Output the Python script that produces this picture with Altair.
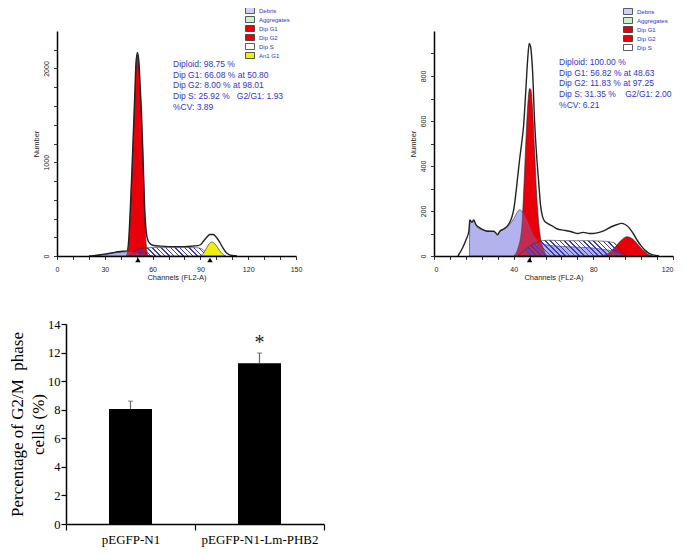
import altair as alt
import pandas as pd

# ---------------- data: left histogram (pEGFP-N1) ----------------
h1_total_ch = [20, 23, 26, 30, 35, 38, 41, 44, 45, 46, 47, 48, 49, 49.5, 50.5, 51.5, 52, 53, 54, 55, 56, 57, 58,
               60, 65, 70, 75, 80, 85, 88, 90, 92, 94, 96, 98, 100, 102, 104, 106, 108, 110, 113]
h1_total_n = [0, 3, 10, 20, 35, 45, 50, 55, 170, 500, 900, 1350, 1800, 2040, 2170, 2050, 1880, 1530, 1050, 520, 260, 170, 140,
              115, 105, 100, 100, 100, 105, 110, 120, 160, 200, 230, 230, 200, 150, 90, 40, 15, 5, 0]
h1_g1_ch = [43.5, 45, 46, 47, 48, 49, 49.5, 50.5, 51.5, 52, 53, 54, 55, 56, 57]
h1_g1_n = [0, 120, 450, 850, 1300, 1750, 2000, 2150, 2020, 1850, 1500, 1000, 450, 120, 0]
h1_deb_ch = [22, 26, 30, 35, 40, 44, 48, 52, 56, 60]
h1_deb_n = [0, 8, 18, 30, 40, 45, 40, 25, 10, 0]
h1_s_ch = [45, 48, 50, 53, 56, 60, 70, 80, 88, 91, 94, 97]
h1_s_n = [0, 35, 65, 82, 88, 90, 90, 90, 88, 75, 35, 0]
h1_an_ch = [90, 92, 94, 96, 97, 98, 100, 102, 104, 106]
h1_an_n = [0, 30, 90, 140, 150, 145, 110, 60, 20, 0]
h1_marks = [50.8, 96.0]
h1_info = ["Diploid: 98.75 %", "Dip G1: 66.08 % at 50.80", "Dip G2: 8.00 % at 98.01",
           "Dip S: 25.92 %   G2/G1: 1.93", "%CV: 3.89"]
h1_comps = ["Debris", "Aggregates", "Dip G1", "Dip G2", "Dip S", "An1 G1"]

# ---------------- data: right histogram (pEGFP-N1-Lm-PHB2) ----------------
h2_total_ch = [12, 14, 16, 17.5, 18, 19, 20, 21, 23, 25, 27, 30, 32, 33, 35, 37, 39, 40, 41, 42, 43, 44, 45, 46, 47,
               47.8, 48.5, 49.5, 50.5, 51.5, 52.5, 53.5, 54.5, 55.5, 57, 60, 62, 65, 68, 70, 72, 75, 78, 80, 83, 86,
               89, 92, 94, 96, 98, 100, 102, 104, 106, 108, 110, 113]
h2_total_n = [0, 30, 70, 110, 160, 150, 160, 140, 125, 115, 110, 110, 95, 110, 120, 135, 170, 205, 270, 350, 430, 500, 580, 720, 870,
              945, 930, 820, 600, 450, 335, 225, 175, 155, 145, 130, 120, 115, 110, 105, 100, 105, 100, 100, 105, 115,
              130, 140, 145, 140, 125, 100, 70, 45, 25, 12, 5, 0]
h2_deb_ch = [17.8, 18, 19, 20, 22, 25, 28, 30, 32, 33, 35, 38, 40, 43, 45, 48, 50, 53, 56, 60, 70, 80, 90, 95, 100]
h2_deb_n = [0, 160, 150, 155, 125, 115, 110, 108, 92, 108, 118, 140, 165, 205, 190, 135, 95, 65, 50, 45, 40, 35, 20, 5, 0]
h2_g1_ch = [40, 42, 44, 45, 46, 47, 48, 48.6, 49.5, 50.5, 51.5, 53, 55, 57]
h2_g1_n = [0, 30, 120, 280, 480, 660, 744, 740, 650, 470, 280, 110, 30, 0]
h2_g2_ch = [84, 88, 91, 94, 97, 99, 102, 105, 108, 110]
h2_g2_n = [0, 15, 40, 70, 86, 80, 55, 25, 5, 0]
h2_s_ch = [42, 46, 50, 54, 58, 65, 75, 85, 90, 93, 96]
h2_s_n = [0, 30, 55, 68, 70, 68, 68, 66, 60, 35, 0]
h2_marks = [48.0]
h2_info = ["Diploid: 100.00 %", "Dip G1: 56.82 % at 48.63", "Dip G2: 11.83 % at 97.25",
           "Dip S: 31.35 %    G2/G1: 2.00", "%CV: 6.21"]
h2_comps = ["Debris", "Aggregates", "Dip G1", "Dip G2", "Dip S"]

# ---------------- data: bar chart ----------------
groups = ["pEGFP-N1", "pEGFP-N1-Lm-PHB2"]
means = [8.05, 11.25]
errs = [0.55, 0.72]
sig = ["", "*"]

# ---------------- layout helpers ----------------
PADL = 3
W = 685 - 16 - PADL
H = 556 - 16


def px(X):
    return X - 8 - PADL


def py(Y):
    return Y - 8


BLUE_TXT = "#3434d2"
comp_colors = {"Debris": "#d0d0fa", "Aggregates": "#c8f2c8", "Dip G1": "#e8000b",
               "Dip G2": "#e8000b", "Dip S": "#ffffff", "An1 G1": "#eeee10"}


def nb(s):
    return s.replace("  ", "\u00a0\u00a0")


def info_text(lines):
    return "\n".join([nb(lines[0])] + ["\u00a0\u00a0\u00a0" + nb(l) for l in lines[1:]])


def hatch_fill(n, r0):
    clear = "rgba(255,255,255,0)"
    blue = "#3a3ac4"
    stops = []
    for i in range(n):
        a = i / n
        b = (i + 0.32) / n
        stops += [{"offset": a, "color": clear}, {"offset": a, "color": blue},
                  {"offset": b, "color": blue}, {"offset": b, "color": clear}]
    stops.append({"offset": 1, "color": clear})
    return {"gradient": "linear", "x1": 0, "y1": r0, "x2": 1, "y2": 0, "stops": stops}


def df(ch, n, comp=None):
    d = pd.DataFrame({"ch": ch, "n": n})
    if comp is not None:
        d["comp"] = comp
    return d


def hist(total_ch, total_n, parts, s_ch, s_n, marks, info, comps, xdom, xstep, xmajor, ymax, ystep, ymajor,
         x0, x1, info_xy, legend_xy, flush, an=None):
    xr = [px(x0), px(x1)]
    yr = [py(256), py(31)]
    ppx = (xr[1] - xr[0]) / (xdom[1])
    ppy = (yr[0] - yr[1]) / ymax
    xs = alt.Scale(domain=[0, xdom[1]], range=xr, nice=False, zero=False)
    ys = alt.Scale(domain=[0, ymax], range=yr, nice=False)
    xaxis = alt.Axis(orient="bottom", offset=py(256) - H, values=list(range(0, xdom[1] + 1, xstep)),
                     labelExpr=f"datum.value % {xmajor} === 0 ? datum.label : ''", format="d",
                     tickSize=3.5, title="Channels (FL2-A)", labelFont="Liberation Sans", labelFontSize=7,
                     labelPadding=6, labelColor="#222", labelFlush=flush, labelOverlap=False,
                     titleFont="Liberation Sans", titleFontSize=7.5, titleFontWeight="normal", titleColor="#222",
                     titlePadding=1, domainColor="black", domainWidth=1.5, tickColor="black", tickWidth=0.8,
                     grid=False, zindex=1)
    yaxis = alt.Axis(orient="left", offset=-px(x0), values=list(range(0, ymax, ystep)),
                     labelExpr=f"datum.value % {ymajor} === 0 ? datum.label : ''", format="d",
                     tickSize=3.5, title="Number", labelFont="Liberation Sans", labelFontSize=7, labelPadding=4,
                     labelAngle=270, labelAlign="center", labelBaseline="bottom",
                     labelColor="#222", labelFlush=False, labelOverlap=False,
                     titleFont="Liberation Sans", titleFontSize=7.5, titleFontWeight="normal", titleColor="#222",
                     titlePadding=2, domainColor="black", domainWidth=1.5, tickColor="black", tickWidth=0.8,
                     grid=False, zindex=1)
    X = alt.X("ch:Q", scale=xs, axis=xaxis)
    Y = alt.Y("n:Q", scale=ys, axis=yaxis, stack=False)
    Xp = alt.X("ch:Q", scale=xs)
    Yp = alt.Y("n:Q", scale=ys, stack=False)
    col = alt.Color("comp:N", scale=alt.Scale(domain=comps, range=[comp_colors[c] for c in comps]),
                    legend=alt.Legend(orient="none", legendX=legend_xy[0], legendY=legend_xy[1], title=None,
                                      symbolType="M-1.5,-1H1.5V1H-1.5Z", symbolSize=36,
                                      symbolStrokeColor="#333", symbolStrokeWidth=0.8, symbolOpacity=1,
                                      labelFont="Liberation Sans", labelFontSize=6, labelColor="#3030d0",
                                      labelOffset=5.5, rowPadding=-2.6, padding=0))
    layers = []
    first = True
    for name, ch, n in parts:
        enc = dict(x=X if first else Xp, y=Y if first else Yp, color=col)
        first = False
        layers.append(alt.Chart(df(ch, n, name)).mark_area(interpolate="monotone", stroke="#222",
                                                            strokeWidth=0.6, opacity=1).encode(**enc))
    deb = [p for p in parts if p[0] == "Debris"][0]
    layers.append(alt.Chart(df(deb[1], deb[2])).mark_area(interpolate="monotone", fill="#7a7ad8",
                                                          opacity=0.35).encode(x=Xp, y=Yp))
    W_s = (max(s_ch) - min(s_ch)) * ppx
    H_s = max(s_n) * ppy
    layers.append(alt.Chart(df(s_ch, s_n)).mark_area(interpolate="monotone", fill=hatch_fill(int(round(W_s / 4.6)), H_s / W_s),
                                                     stroke="#333", strokeWidth=0.6).encode(x=Xp, y=Yp))
    if an is not None:
        layers.append(alt.Chart(df(an[1], an[2], an[0])).mark_area(interpolate="monotone", stroke="#222",
                                                                   strokeWidth=0.6, opacity=1).encode(x=Xp, y=Yp, color=col))
    layers.append(alt.Chart(df(total_ch, total_n)).mark_line(interpolate="monotone", color="#222",
                                                             strokeWidth=1.4).encode(x=Xp, y=Yp))
    layers.append(alt.Chart(df(marks, [0] * len(marks))).mark_point(shape="triangle-up", filled=True, color="black",
                                                                    size=30, yOffset=4, opacity=1).encode(x=Xp, y=Yp))
    layers.append(alt.Chart(pd.DataFrame({"ch": [info_xy[0]], "n": [info_xy[1]], "t": [info_text(info)]}))
                  .mark_text(align="left", baseline="middle", font="Liberation Sans", fontSize=8.5,
                             color=BLUE_TXT, lineBreak="\n", lineHeight=10.7)
                  .encode(x=Xp, y=Yp, text="t:N"))
    return alt.layer(*layers)


h1 = hist(h1_total_ch, h1_total_n,
          [("Debris", h1_deb_ch, h1_deb_n), ("Dip G1", h1_g1_ch, h1_g1_n)],
          h1_s_ch, h1_s_n, h1_marks, h1_info, h1_comps,
          (0, 150), 5, 30, 2400, 100, 500, 57, 296, (72.8, 2048), (px(245) + 1.5, py(7)), False,
          an=("An1 G1", h1_an_ch, h1_an_n))

h2 = hist(h2_total_ch, h2_total_n,
          [("Debris", h2_deb_ch, h2_deb_n), ("Dip G2", h2_g2_ch, h2_g2_n), ("Dip G1", h2_g1_ch, h2_g1_n)],
          h2_s_ch, h2_s_n, h2_marks, h2_info, h2_comps,
          (0, 120), 4, 20, 1000, 50, 200, 434, 673, (62.8, 862), (px(623) + 1.5, py(8)), True)

# ---------------- bar chart ----------------
bar_df = pd.DataFrame({"g": groups, "v": means, "hi": [m + e for m, e in zip(means, errs)], "s": sig})
bxs = alt.Scale(domain=groups, range=[px(66), px(324)], paddingInner=0, paddingOuter=0)
bys = alt.Scale(domain=[0, 14], range=[py(524), py(324)], nice=False)
bx = alt.X("g:N", sort=groups, scale=bxs,
           axis=alt.Axis(orient="bottom", offset=py(524) - H, title=None, labelAngle=0, tickBand="extent",
                         tickSize=6, labelPadding=3, labelFont="Liberation Serif", labelFontSize=13,
                         labelColor="black", domainColor="black", domainWidth=1.5, tickColor="black",
                         tickWidth=1.2, grid=False, zindex=1))
by = alt.Y("v:Q", scale=bys,
           axis=alt.Axis(orient="left", offset=-px(66), values=list(range(0, 15, 2)),
                         title=["Percentage of G2/M\u00a0 phase", "cells (%)"], titleFont="Liberation Serif",
                         titleFontSize=17, titleFontWeight="normal", titleColor="black", titleLineHeight=21,
                         titlePadding=0, labelFont="Liberation Serif", labelFontSize=12.5, labelColor="black",
                         labelPadding=1, tickSize=5, tickColor="black", tickWidth=1.2, domainColor="black",
                         domainWidth=1.5, grid=False, zindex=1))
bxp = alt.X("g:N", sort=groups, scale=bxs)
bars = alt.Chart(bar_df).mark_bar(size=43, color="black", opacity=1).encode(x=bx, y=by)
err = alt.Chart(bar_df).mark_rule(color="#666", strokeWidth=1.2).encode(x=bxp, y=alt.Y("v:Q", scale=bys), y2="hi:Q")
cap = alt.Chart(bar_df).mark_tick(color="#666", size=5, thickness=1.2, orient="horizontal").encode(
    x=bxp, y=alt.Y("hi:Q", scale=bys))
star = alt.Chart(bar_df).mark_text(font="Liberation Serif", fontSize=20, baseline="middle", dy=-10,
                                   color="#222").encode(x=bxp, y=alt.Y("hi:Q", scale=bys), text="s:N")
barchart = alt.layer(bars, err, cap, star)

chart = (alt.layer(h1, h2, barchart)
         .resolve_scale(x="independent", y="independent", color="independent")
         .properties(width=W, height=H, autosize=alt.AutoSizeParams(type="none"),
                     padding={"left": PADL, "top": 0, "right": 0, "bottom": 0}, background="white")
         .configure_view(strokeWidth=0))

chart.save("out.html", embed_options={"renderer": "svg", "actions": False})
